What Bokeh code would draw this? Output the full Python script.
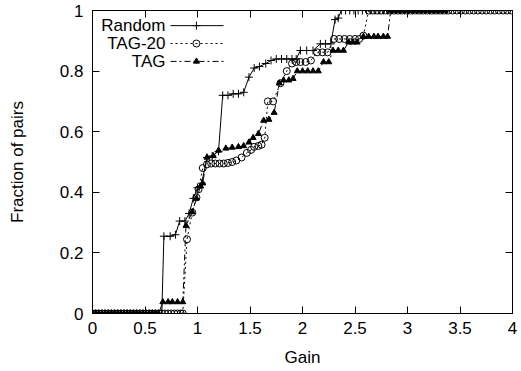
from bokeh.plotting import figure
from bokeh.models import LinearAxis, FixedTicker, Range1d, CustomLabelingPolicy
from bokeh.embed import file_html
from bokeh.resources import INLINE
from bokeh.core.properties import value

# ---------------- data ----------------
random_x = [0.00, 0.03, 0.06, 0.09, 0.12, 0.15, 0.18, 0.21, 0.24, 0.27, 0.30, 0.33,
            0.36, 0.39, 0.42, 0.45, 0.48, 0.51, 0.54, 0.57, 0.60, 0.63, 0.66,
            0.68, 0.74, 0.79, 0.83, 0.88, 0.92, 0.96, 1.00, 1.04, 1.09, 1.14, 1.20,
            1.24, 1.29, 1.34, 1.39, 1.44, 1.49, 1.54, 1.59, 1.65, 1.70, 1.75, 1.80,
            1.85, 1.90, 1.94, 1.98, 2.04, 2.10, 2.17, 2.22, 2.27, 2.31, 2.34,
            2.37, 2.41, 2.45, 2.49, 2.53, 2.57, 2.61, 2.65, 2.69, 2.73, 2.77, 2.81,
            2.85, 2.89, 2.93, 2.97, 3.01, 3.05, 3.09, 3.13, 3.17, 3.21, 3.25, 3.29,
            3.33, 3.37]
random_y = [0, 0, 0, 0, 0, 0, 0, 0, 0, 0, 0, 0,
            0, 0, 0, 0, 0, 0, 0, 0, 0, 0, 0,
            0.255, 0.255, 0.26, 0.305, 0.305, 0.33, 0.38, 0.415, 0.43, 0.515, 0.52, 0.535,
            0.72, 0.72, 0.725, 0.725, 0.73, 0.78, 0.81, 0.815, 0.825, 0.835, 0.84, 0.84,
            0.84, 0.84, 0.84, 0.868, 0.868, 0.868, 0.89, 0.89, 0.89, 0.97, 0.975,
            1, 1, 1, 1, 1, 1, 1, 1, 1, 1, 1, 1,
            1, 1, 1, 1, 1, 1, 1, 1, 1, 1, 1, 1,
            1, 1]

tag20_x = [0.00, 0.03, 0.06, 0.09, 0.12, 0.15, 0.18, 0.21, 0.24, 0.27, 0.30, 0.33,
           0.36, 0.39, 0.42, 0.45, 0.48, 0.51, 0.54, 0.57, 0.60, 0.63, 0.66, 0.69,
           0.72, 0.75, 0.78, 0.81, 0.84, 0.86,
           0.90, 0.95, 0.99, 1.01, 1.05, 1.09, 1.13, 1.17, 1.21, 1.25, 1.29, 1.33,
           1.37, 1.42, 1.47, 1.51, 1.54, 1.58, 1.61, 1.64, 1.67, 1.72, 1.79, 1.85,
           1.90, 1.94, 1.98, 2.03, 2.08, 2.14, 2.19, 2.24, 2.30, 2.35, 2.40, 2.45,
           2.50, 2.54, 2.58, 2.63, 2.67, 2.71, 2.75, 2.79, 2.83, 2.87, 2.91, 2.95,
           2.99, 3.03, 3.07, 3.11, 3.15, 3.19, 3.23, 3.27, 3.31, 3.35, 3.39, 3.43,
           3.47, 3.51, 3.55, 3.59, 3.63, 3.67, 3.71, 3.75, 3.79, 3.83, 3.87, 3.91,
           3.95, 3.99]
tag20_y = [0, 0, 0, 0, 0, 0, 0, 0, 0, 0, 0, 0,
           0, 0, 0, 0, 0, 0, 0, 0, 0, 0, 0, 0,
           0, 0, 0, 0, 0, 0,
           0.245, 0.333, 0.383, 0.41, 0.48, 0.492, 0.495, 0.495, 0.495, 0.495, 0.497, 0.50,
           0.505, 0.515, 0.53, 0.54, 0.55, 0.553, 0.557, 0.58, 0.70, 0.70, 0.76, 0.80,
           0.825, 0.83, 0.83, 0.83, 0.835, 0.862, 0.862, 0.862, 0.906, 0.906, 0.906, 0.906,
           0.906, 0.906, 0.917, 1, 1, 1, 1, 1, 1, 1, 1, 1,
           1, 1, 1, 1, 1, 1, 1, 1, 1, 1, 1, 1,
           1, 1, 1, 1, 1, 1, 1, 1, 1, 1, 1, 1,
           1, 1]

tag_x = [0.00, 0.03, 0.06, 0.09, 0.12, 0.15, 0.18, 0.21, 0.24, 0.27, 0.30, 0.33,
         0.36, 0.39, 0.42, 0.45, 0.48, 0.51, 0.54, 0.57, 0.60, 0.63,
         0.67, 0.72, 0.76, 0.81, 0.86, 0.89, 0.95, 0.99, 1.03, 1.05, 1.09, 1.15,
         1.20, 1.27, 1.33, 1.39, 1.44, 1.49, 1.53, 1.58, 1.63, 1.68, 1.73, 1.78,
         1.82, 1.87, 1.91, 1.95, 2.00, 2.05, 2.10, 2.15, 2.20, 2.25, 2.29, 2.34,
         2.39, 2.44, 2.48, 2.52, 2.58, 2.63, 2.68, 2.72, 2.77, 2.81, 2.84, 2.88,
         2.92, 2.96, 3.00, 3.04, 3.08, 3.12, 3.16, 3.20, 3.24, 3.28, 3.32, 3.36]
tag_y = [0, 0, 0, 0, 0, 0, 0, 0, 0, 0, 0, 0,
         0, 0, 0, 0, 0, 0, 0, 0, 0, 0,
         0.038, 0.038, 0.038, 0.038, 0.038, 0.29, 0.335, 0.38, 0.42, 0.43, 0.515, 0.52,
         0.538, 0.545, 0.548, 0.55, 0.553, 0.565, 0.58, 0.593, 0.637, 0.64, 0.663, 0.76,
         0.77, 0.77, 0.775, 0.80, 0.80, 0.80, 0.80, 0.80, 0.83, 0.83, 0.868, 0.868,
         0.868, 0.895, 0.895, 0.895, 0.914, 0.914, 0.914, 0.914, 0.914, 0.914, 1, 1,
         1, 1, 1, 1, 1, 1, 1, 1, 1, 1, 1, 1]

x_ticks = [0, 0.5, 1, 1.5, 2, 2.5, 3, 3.5, 4]
x_tick_labels = ["0", "0.5", "1", "1.5", "2", "2.5", "3", "3.5", "4"]
y_ticks = [0, 0.2, 0.4, 0.6, 0.8, 1]
y_tick_labels = ["0", "0.2", "0.4", "0.6", "0.8", "1"]

series_names = ["Random", "TAG-20", "TAG"]

# ---------------- figure ----------------
FONT = "Liberation Sans"
FS = "17px"

p = figure(width=521, height=371, x_range=Range1d(0, 4), y_range=Range1d(0, 1),
           output_backend="svg", toolbar_location=None,
           min_border_left=92, min_border_right=9, min_border_top=10, min_border_bottom=58,
           x_axis_label="Gain", y_axis_label="Fraction of pairs")
p.xgrid.visible = False
p.ygrid.visible = False
p.outline_line_color = "black"
p.outline_line_alpha = 1.0
p.outline_line_width = 1
p.background_fill_color = "white"
p.border_fill_color = "white"

hide_all_labels = CustomLabelingPolicy(code="""
    const all = [...indices];
    for (const i of all) indices.unset(i);
    return indices;
""")


def style_axis(ax, ticks, labels, show_labels=True):
    ax.ticker = FixedTicker(ticks=ticks)
    ax.major_tick_in = 7
    ax.major_tick_out = 0
    ax.minor_tick_in = 0
    ax.minor_tick_out = 0
    ax.major_tick_line_color = "black"
    ax.axis_line_color = "black"
    ax.major_label_text_font = FONT
    ax.major_label_text_color = "black"
    ax.axis_label_text_font = FONT
    ax.axis_label_text_font_style = "normal"
    ax.axis_label_text_color = "black"
    ax.axis_label_text_font_size = FS
    if show_labels:
        ax.major_label_overrides = {t: l for t, l in zip(ticks, labels)}
        ax.major_label_text_font_size = FS
    else:
        # mirrored tick marks only (gnuplot-style box), no labels
        ax.major_label_text_font_size = "0px"
        ax.major_label_standoff = 0
        ax.major_label_policy = hide_all_labels


for ax in p.xaxis:
    style_axis(ax, x_ticks, x_tick_labels)
    ax.major_label_standoff = 8
    ax.axis_label_standoff = 11
for ax in p.yaxis:
    style_axis(ax, y_ticks, y_tick_labels)
    ax.major_label_standoff = 9
    ax.axis_label_standoff = 30

top = LinearAxis()
style_axis(top, x_ticks, x_tick_labels, show_labels=False)
p.add_layout(top, "above")
right = LinearAxis()
style_axis(right, y_ticks, y_tick_labels, show_labels=False)
p.add_layout(right, "right")

# ---------------- series ----------------
p.line(random_x, random_y, line_color="black", line_width=1)
p.scatter(random_x, random_y, marker="cross", size=8, line_color="black", line_width=1)

p.line(tag20_x, tag20_y, line_color="black", line_width=1, line_dash="2 3")
p.scatter(tag20_x, tag20_y, marker="circle", size=7, line_color="black",
          fill_color=None, line_width=1)

p.line(tag_x, tag_y, line_color="black", line_width=1, line_dash="6 3 2 3")
p.scatter(tag_x, tag_y, marker="triangle", size=6, line_color="black",
          fill_color="black", line_width=1)

# ---------------- legend (drawn gnuplot-style: text left, sample right) ----------------
leg_text_x = 0.695
leg_line_x0, leg_line_x1, leg_mark_x = 0.743, 1.248, 0.99
leg_rows_y = [0.950, 0.891, 0.832]
dashes = ["solid", "2 3", "6 3 2 3"]
markers = [("cross", 8, None), ("circle", 7, None), ("triangle", 6, "black")]

p.text([leg_text_x] * 3, leg_rows_y, text=series_names, text_align="right",
       text_baseline="middle", text_font=value(FONT), text_font_size=FS,
       text_color="black")
for yy, dsh, (mk, sz, fc) in zip(leg_rows_y, dashes, markers):
    p.segment(x0=[leg_line_x0], y0=[yy], x1=[leg_line_x1], y1=[yy],
              line_color="black", line_width=1, line_dash=dsh)
    p.scatter([leg_mark_x], [yy], marker=mk, size=sz, line_color="black",
              fill_color=fc, line_width=1)

open("out.html", "w").write(file_html(p, INLINE))
